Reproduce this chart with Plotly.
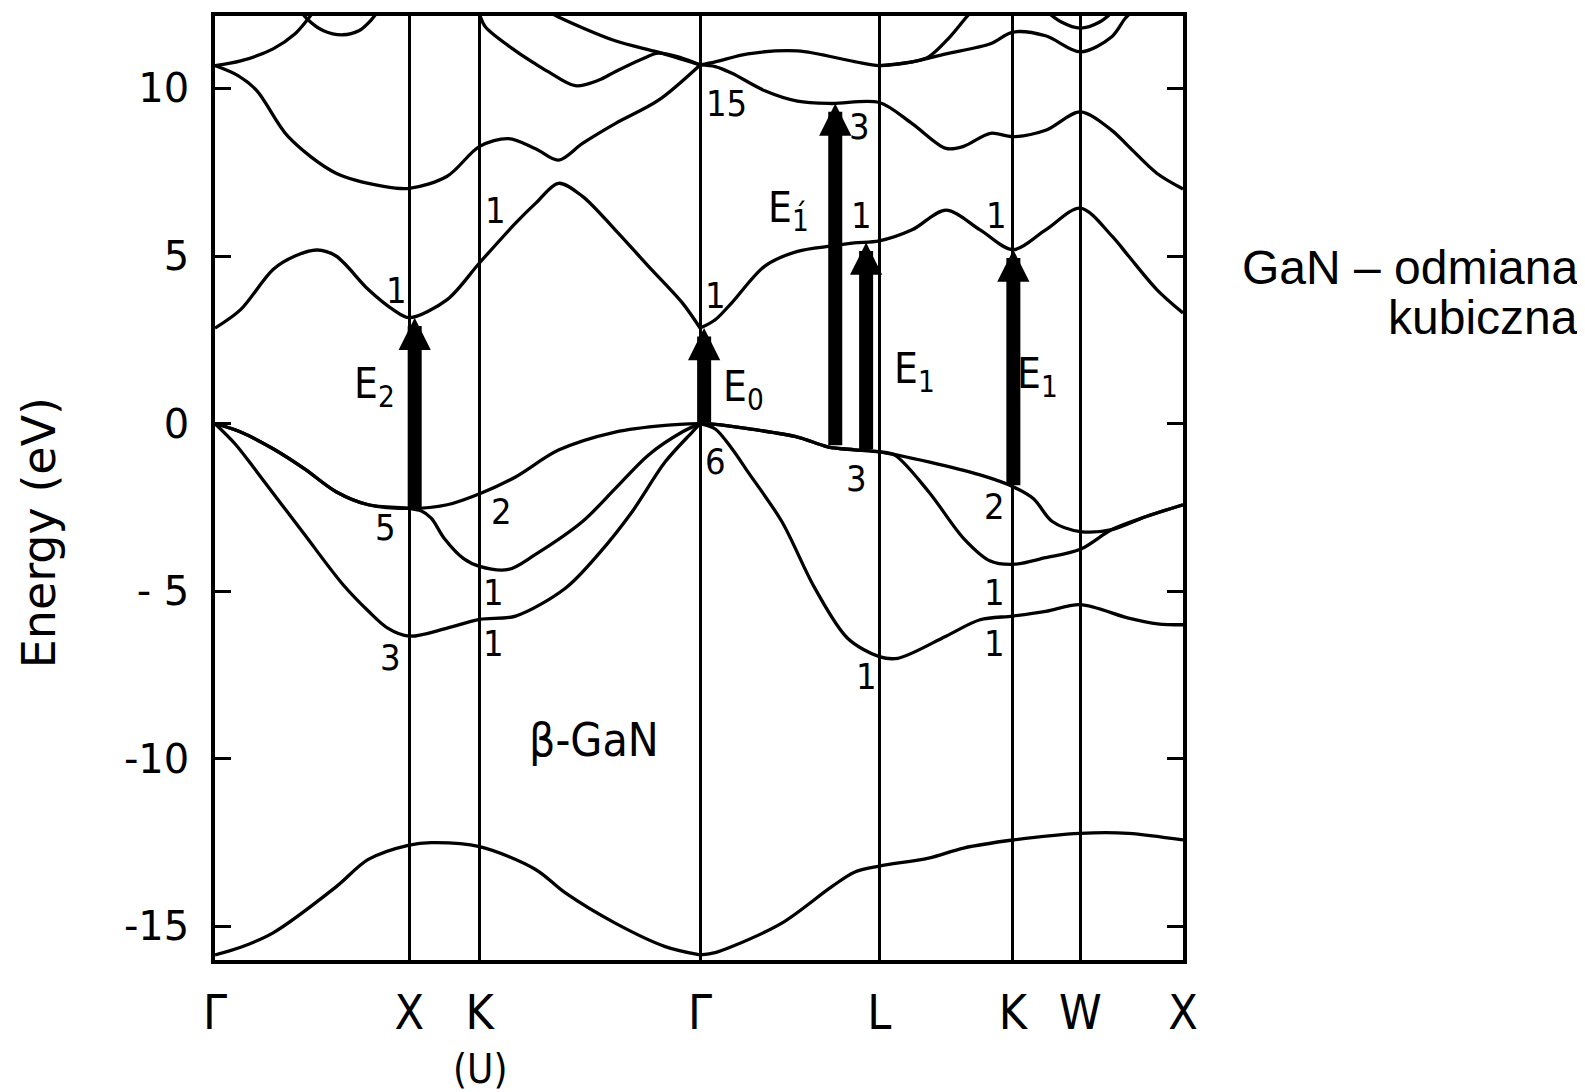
import plotly.graph_objects as go

# high-symmetry points along the k-path (k in units of the path drawn, Gamma at 0)
sym_k = [0.0, 0.963, 1.312, 2.405, 3.293, 3.956, 4.290, 4.799]
sym_labels = ["Γ", "X", "K", "Γ", "L", "K", "W", "X"]

y_ticks = [-15, -10, -5, 0, 5, 10]
y_ticktext = ["-15", "-10", "- 5", "0", "5", "10"]

# bands on Gamma - X - K(U) - Gamma, (k, E[eV])
left_s = [(0, -15.85), (0.127, -15.62), (0.288, -15.19), (0.600, -13.82), (0.760, -13.0),
          (0.963, -12.57), (1.072, -12.5), (1.312, -12.62), (1.589, -13.3), (1.737, -14.0),
          (1.984, -14.9), (2.232, -15.6), (2.405, -15.85)]
left_v1 = [(0, 0), (0.099, -0.6), (0.208, -1.44), (0.444, -3.31), (0.633, -4.79), (0.760, -5.59),
           (0.854, -6.09), (0.963, -6.34), (1.151, -6.1), (1.312, -5.84), (1.490, -5.74),
           (1.737, -4.91), (1.900, -3.9), (2.069, -2.62), (2.232, -1.14), (2.366, -0.25), (2.405, 0)]
left_v2 = [(0, 0), (0.127, -0.25), (0.288, -0.75), (0.444, -1.35), (0.600, -2.03), (0.760, -2.42),
           (0.963, -2.53), (1.151, -2.42), (1.312, -2.09), (1.490, -1.59), (1.703, -0.79),
           (1.984, -0.25), (2.232, -0.05), (2.405, 0)]
left_v3 = [(0, 0), (0.127, -0.25), (0.288, -0.75), (0.444, -1.35), (0.600, -2.03), (0.760, -2.42),
           (0.963, -2.53), (1.021, -2.6), (1.072, -2.82), (1.136, -3.42), (1.231, -4.02), (1.312, -4.26),
           (1.455, -4.35), (1.589, -3.9), (1.822, -2.92), (1.984, -1.94), (2.148, -0.94),
           (2.316, -0.25), (2.405, 0)]
left_c1 = [(0, 2.85), (0.127, 3.4), (0.288, 4.6), (0.397, 5.0), (0.506, 5.18), (0.600, 5.0),
           (0.760, 4.0), (0.883, 3.4), (0.963, 3.16), (1.151, 3.7), (1.312, 4.8), (1.490, 5.98),
           (1.589, 6.57), (1.703, 7.17), (1.822, 6.78), (1.984, 5.78), (2.148, 4.7), (2.316, 3.61),
           (2.405, 2.85)]
left_c2 = [(0, 10.68), (0.114, 10.38), (0.208, 9.93), (0.363, 8.56), (0.600, 7.47), (0.836, 7.08),
           (0.963, 7.02), (1.151, 7.38), (1.312, 8.27), (1.455, 8.5), (1.589, 8.2), (1.703, 7.86),
           (1.822, 8.36), (1.984, 8.95), (2.197, 9.64), (2.405, 10.7)]
left_c3 = [(0, 10.68), (0.127, 10.82), (0.288, 11.18), (0.397, 11.63), (0.457, 12.04), (0.501, 12.4)]
left_c4 = [(0.414, 12.4), (0.457, 12.07), (0.538, 11.72), (0.633, 11.6), (0.713, 11.72),
           (0.774, 12.04), (0.819, 12.4)]
left_c5 = [(1.312, 12.2), (1.341, 11.83), (1.490, 11.12), (1.589, 10.73), (1.652, 10.5),
           (1.786, 10.08), (1.904, 10.25), (1.984, 10.5), (2.118, 10.88), (2.197, 11.05),
           (2.308, 10.92), (2.405, 10.7)]
left_c6 = [(1.652, 12.3), (1.703, 12.13), (1.984, 11.42), (2.197, 11.08), (2.405, 10.7)]

# bands on Gamma - L - K - W - X
right_s = [(2.405, -15.85), (2.480, -15.78), (2.563, -15.6), (2.810, -14.9), (3.056, -13.82),
           (3.170, -13.38), (3.293, -13.2), (3.538, -12.96), (3.711, -12.66), (3.956, -12.42),
           (4.290, -12.22), (4.529, -12.22), (4.799, -12.42)]
right_v1 = [(2.405, 0), (2.480, -0.16), (2.563, -0.75), (2.642, -1.44), (2.810, -2.92), (2.973, -4.9),
            (3.136, -6.4), (3.293, -6.95), (3.385, -7.0), (3.624, -6.34), (3.793, -5.85),
            (3.956, -5.74), (4.118, -5.6), (4.290, -5.4), (4.529, -5.8), (4.673, -5.97), (4.799, -6.0)]
right_v2 = [(2.405, 0), (2.480, -0.02), (2.642, -0.15), (2.888, -0.4), (3.037, -0.69), (3.170, -0.78),
            (3.293, -0.84), (3.538, -1.14), (3.793, -1.53), (3.956, -1.88), (4.058, -2.24),
            (4.151, -2.92), (4.290, -3.22), (4.446, -3.16), (4.617, -2.77), (4.799, -2.42)]
right_v3 = [(2.405, 0), (2.480, -0.02), (2.642, -0.15), (2.888, -0.4), (3.037, -0.69), (3.170, -0.78),
            (3.293, -0.84), (3.370, -0.94), (3.538, -2.03), (3.711, -3.42), (3.844, -4.1),
            (3.956, -4.2), (4.118, -4.0), (4.290, -3.75), (4.446, -3.16), (4.617, -2.77), (4.799, -2.42)]
right_c1 = [(2.405, 2.85), (2.480, 3.1), (2.563, 3.61), (2.726, 4.7), (2.888, 5.14), (3.056, 5.3),
            (3.170, 5.39), (3.293, 5.45), (3.456, 5.78), (3.624, 6.37), (3.793, 5.78), (3.956, 5.19),
            (4.118, 5.78), (4.290, 6.43), (4.446, 5.6), (4.529, 5.0), (4.669, 4.0), (4.799, 3.3)]
right_c2 = [(2.405, 10.7), (2.480, 10.65), (2.563, 10.45), (2.726, 9.93), (2.888, 9.62), (3.056, 9.55),
            (3.293, 9.58), (3.456, 8.95), (3.624, 8.21), (3.711, 8.27), (3.844, 8.66), (3.956, 8.56),
            (4.118, 8.75), (4.290, 9.3), (4.446, 8.75), (4.529, 8.27), (4.669, 7.47), (4.799, 7.0)]
right_c3 = [(2.405, 10.7), (2.480, 10.79), (2.642, 11.03), (2.888, 11.12), (3.170, 10.8), (3.293, 10.68),
            (3.456, 10.79), (3.624, 11.03), (3.844, 11.33), (3.956, 11.68), (4.118, 11.57),
            (4.290, 11.09), (4.446, 11.54), (4.514, 12.1), (4.567, 12.4)]
right_c4 = [(3.293, 10.68), (3.456, 10.79), (3.538, 10.94), (3.638, 11.5), (3.726, 12.13), (3.783, 12.5)]
right_c5 = [(4.102, 12.4), (4.196, 11.98), (4.290, 11.8), (4.386, 11.98), (4.471, 12.4)]

bands = [left_s, left_v1, left_v2, left_v3, left_c1, left_c2, left_c3, left_c4, left_c5, left_c6,
         right_s, right_v1, right_v2, right_v3, right_c1, right_c2, right_c3, right_c4, right_c5]

# transitions: k, start energy, end energy
arrow_k = [0.99, 2.425, 3.075, 3.228, 3.958]
arrow_from = [-2.53, 0.0, -0.69, -0.8, -1.88]
arrow_to = [3.16, 2.85, 9.55, 5.4, 5.19]

# state labels
lab_text = ["15", "3", "1", "1", "1", "1", "1", "6", "3", "2", "2", "5",
            "1", "1", "3", "1", "1", "1"]
lab_k = [2.535, 3.195, 3.205, 3.872, 1.39, 0.90, 2.48, 2.48, 3.18, 3.862, 1.42, 0.845,
         1.38, 1.38, 0.868, 3.23, 3.862, 3.862]
lab_e = [9.55, 8.86, 6.22, 6.22, 6.37, 3.97, 3.82, -1.14, -1.64, -2.48, -2.62, -3.1,
         -5.03, -6.55, -6.99, -7.53, -5.03, -6.55]

gap_text = ["E<sub>2</sub>", "E<sub>0</sub>", "E<sub>1\u0301</sub>", "E<sub>1</sub>", "E<sub>1</sub>"]
gap_k = [0.79, 2.62, 2.845, 3.47, 4.08]
gap_e = [1.12, 1.03, 6.37, 1.56, 1.41]

COND = "DejaVu Sans Condensed, Liberation Sans Narrow, DejaVu Sans"

fig = go.Figure()
for band in bands:
    fig.add_trace(go.Scatter(
        x=[p[0] for p in band], y=[p[1] for p in band],
        mode="lines", line=dict(color="black", width=3.3, shape="spline", smoothing=0.9),
        hoverinfo="skip"))

for k, e0, e1 in zip(arrow_k, arrow_from, arrow_to):
    fig.add_annotation(x=k, y=e1, ax=k, ay=e0, xref="x", yref="y", axref="x", ayref="y",
                       text="", showarrow=True, arrowhead=2, arrowwidth=14, arrowsize=0.46,
                       arrowcolor="black", standoff=0)

for t, k, e in zip(lab_text, lab_k, lab_e):
    fig.add_annotation(x=k, y=e, text=t, showarrow=False, xanchor="center", yanchor="middle",
                       font=dict(family=COND, size=36, color="black"))

for t, k, e in zip(gap_text, gap_k, gap_e):
    fig.add_annotation(x=k, y=e, text=t, showarrow=False, xanchor="center", yanchor="middle",
                       font=dict(family=COND, size=42, color="black"))

fig.add_annotation(x=1.88, y=-9.45, text="β-GaN", showarrow=False,
                   xanchor="center", yanchor="middle",
                   font=dict(family=COND, size=46, color="black"))
fig.add_annotation(x=sym_k[2], y=-0.115, xref="x", yref="paper", text="(U)", showarrow=False,
                   xanchor="center", yanchor="middle",
                   font=dict(family=COND, size=40, color="black"))
fig.add_annotation(x=-0.1824, y=0.4525, xref="paper", yref="paper", text="Energy (eV)",
                   textangle=-90, showarrow=False, xanchor="center", yanchor="middle",
                   font=dict(family="DejaVu Sans", size=46, color="black"))
fig.add_annotation(x=1.4101, y=0.7331, xref="paper", yref="paper", text="GaN – odmiana",
                   xanchor="right", yanchor="middle", showarrow=False,
                   font=dict(family="Liberation Sans, Arial", size=48, color="black"))
fig.add_annotation(x=1.4101, y=0.6802, xref="paper", yref="paper", text="kubiczna",
                   xanchor="right", yanchor="middle", showarrow=False,
                   font=dict(family="Liberation Sans, Arial", size=48, color="black"))

fig.update_xaxes(range=[sym_k[0], sym_k[-1]], tickvals=sym_k, ticktext=sym_labels,
                 showgrid=True, gridcolor="black", gridwidth=2.8, zeroline=False,
                 showline=True, mirror=True, linecolor="black", linewidth=3.5, ticks="",
                 ticklabelstandoff=8,
                 tickfont=dict(family=COND, size=48, color="black"))
fig.update_yaxes(range=[-16.0, 12.16], tickvals=y_ticks, ticktext=y_ticktext,
                 ticks="inside", ticklen=16, tickwidth=3, tickcolor="black",
                 showgrid=False, zeroline=False, ticklabelstandoff=14,
                 showline=True, mirror="ticks", linecolor="black", linewidth=3.5,
                 tickfont=dict(family="DejaVu Sans", size=40, color="black"))
# the page body adds 8 px around the figure, so margins are shifted by that
fig.update_layout(width=1585, height=1092, margin=dict(l=207, r=410, t=4, b=140),
                  paper_bgcolor="white", plot_bgcolor="white", showlegend=False)

fig.write_html("out.html")
